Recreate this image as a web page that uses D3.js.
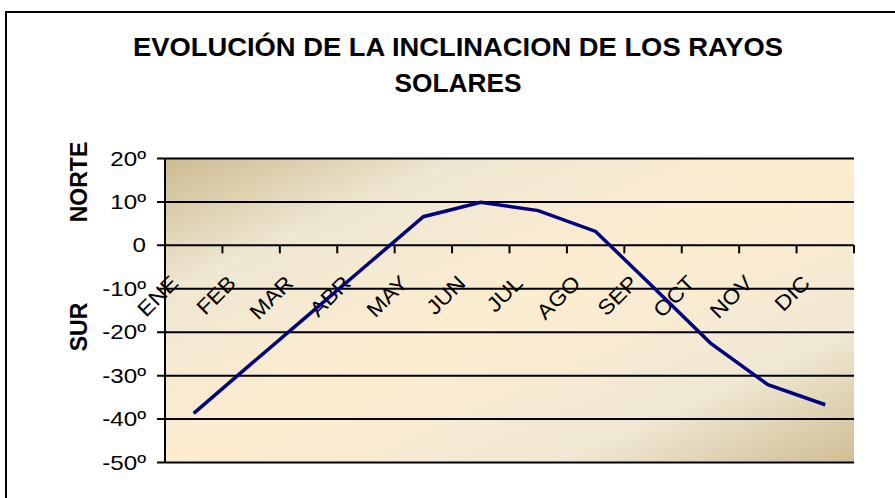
<!DOCTYPE html>
<html>
<head>
<meta charset="utf-8">
<script src="https://cdn.jsdelivr.net/npm/d3@7"></script>
<style>
  html, body { margin: 0; padding: 0; background: #ffffff; }
  svg { display: block; }
  text { font-family: "Liberation Sans", Arial, sans-serif; fill: #000; }
</style>
</head>
<body>
<svg id="chart" width="895" height="498"></svg>
<script>
// ---- data ----
const months = ["ENE","FEB","MAR","ABR","MAY","JUN","JUL","AGO","SEP","OCT","NOV","DIC"];
const inclination = [-38.7, -27.3, -16.0, -4.7, 6.6, 9.9, 8.0, 3.2, -9.6, -22.5, -32.1, -36.7];
const yTickValues = [20, 10, 0, -10, -20, -30, -40, -50];
const yTickLabels = ["20º","10º","0","-10º","-20º","-30º","-40º","-50º"];
const titleLines = ["EVOLUCIÓN DE LA INCLINACION DE LOS RAYOS", "SOLARES"];
const axisTitleNorth = "NORTE";
const axisTitleSouth = "SUR";

// ---- layout ----
const svg = d3.select("#chart");
const plot = { left: 165, right: 854, top: 158.5, bottom: 462.5 };

const x = d3.scaleBand().domain(months).range([plot.left, plot.right]).padding(0);
const y = d3.scaleLinear().domain([-50, 20]).range([plot.bottom, plot.top]);

// stretch text horizontally by factor
function stretch(sel, f) {
  sel.each(function () {
    const len = this.getComputedTextLength();
    d3.select(this).attr("textLength", len * f).attr("lengthAdjust", "spacingAndGlyphs");
  });
}

// outer frame
svg.append("rect")
  .attr("x", 6).attr("y", 12).attr("width", 900).attr("height", 500)
  .attr("fill", "none").attr("stroke", "#000").attr("stroke-width", 2);

// gradient
const defs = svg.append("defs");
const grad = defs.append("linearGradient").attr("id", "bg")
  .attr("x1", 0).attr("y1", 0).attr("x2", 1).attr("y2", 1);
[[0, "#cdbb90"], [0.22, "#efe7d2"], [0.5, "#fdedd0"], [0.78, "#f0e8d3"], [1, "#cfbe94"]]
  .forEach(([o, c]) => grad.append("stop").attr("offset", o).attr("stop-color", c));

svg.append("rect")
  .attr("x", plot.left).attr("y", plot.top)
  .attr("width", plot.right - plot.left).attr("height", plot.bottom - plot.top)
  .attr("fill", "url(#bg)");

// horizontal gridlines
svg.append("g").selectAll("line").data(yTickValues).join("line")
  .attr("x1", plot.left - 8).attr("x2", plot.right)
  .attr("y1", d => y(d)).attr("y2", d => y(d))
  .attr("stroke", "#000").attr("stroke-width", 2);

// left axis line
svg.append("line")
  .attr("x1", plot.left).attr("x2", plot.left)
  .attr("y1", plot.top).attr("y2", plot.bottom)
  .attr("stroke", "#000").attr("stroke-width", 2);

// y tick labels
svg.append("g").selectAll("text").data(yTickValues).join("text")
  .attr("x", 146).attr("y", d => y(d) + 7)
  .attr("text-anchor", "end")
  .attr("font-size", 21)
  .text((d, i) => yTickLabels[i])
  .call(stretch, 1.15);

// x axis at 0 with ticks at category boundaries
const boundaries = months.map(m => x(m)).concat([x.range()[1]]);
svg.append("g").selectAll("line").data(boundaries).join("line")
  .attr("x1", d => d).attr("x2", d => d)
  .attr("y1", y(0)).attr("y2", y(0) + 8)
  .attr("stroke", "#000").attr("stroke-width", 2);

// x labels rotated
svg.append("g").selectAll("text").data(months).join("text")
  .attr("transform", d => `translate(${x(d) + x.bandwidth() / 2 - 14},${y(0) + 39}) rotate(-45)`)
  .attr("text-anchor", "end")
  .attr("font-size", 21)
  .text(d => d)
  .call(stretch, 1.1);

// line
const line = d3.line()
  .x((d, i) => x(months[i]) + x.bandwidth() / 2)
  .y(d => y(d));
svg.append("path").datum(inclination)
  .attr("d", line)
  .attr("fill", "none").attr("stroke", "#000080").attr("stroke-width", 3.5)
  .attr("stroke-linejoin", "miter");

// title
svg.append("g").selectAll("text").data(titleLines).join("text")
  .attr("x", 458).attr("y", (d, i) => 55.7 + i * 36)
  .attr("text-anchor", "middle")
  .attr("font-size", 25).attr("font-weight", "bold")
  .text(d => d)
  .attr("textLength", (d, i) => i === 0 ? 650 : 127)
  .attr("lengthAdjust", "spacingAndGlyphs");

// axis titles
svg.append("text")
  .attr("transform", "translate(87,182) rotate(-90)")
  .attr("text-anchor", "middle").attr("font-size", 23).attr("font-weight", "bold")
  .text(axisTitleNorth);
svg.append("text")
  .attr("transform", "translate(87,327) rotate(-90)")
  .attr("text-anchor", "middle").attr("font-size", 23).attr("font-weight", "bold")
  .text(axisTitleSouth);
</script>
</body>
</html>
